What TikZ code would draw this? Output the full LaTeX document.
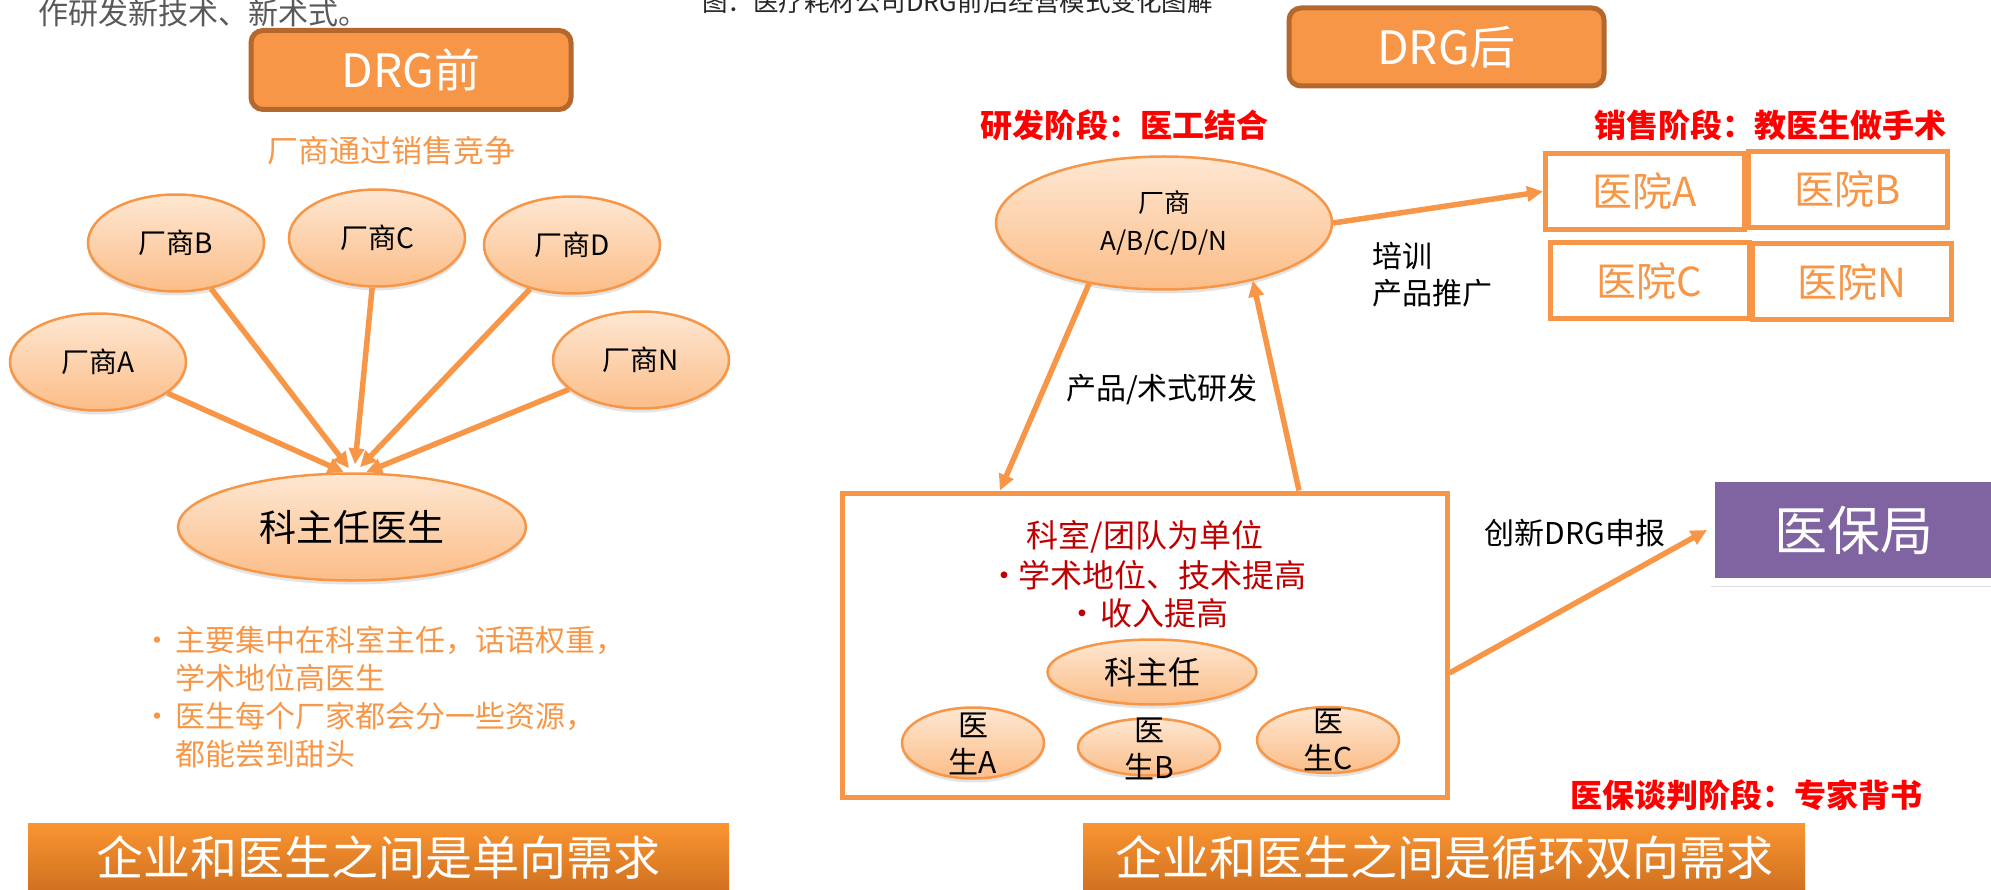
\documentclass[tikz,border=0pt]{standalone}
\usepackage{fontspec}
\setmainfont{Noto Sans CJK SC}
\usetikzlibrary{shapes.geometric,arrows.meta,shadows}
\definecolor{org}{HTML}{F79646}
\definecolor{orgdark}{HTML}{B5682E}
\definecolor{peachtop}{HTML}{FEE7D2}
\definecolor{peachbot}{HTML}{FBBD88}
\definecolor{bandtop}{HTML}{FA9532}
\definecolor{bandbot}{HTML}{D0701F}
\definecolor{purp}{HTML}{8064A2}
\definecolor{darkred}{HTML}{C00000}
\definecolor{brightred}{HTML}{FF0000}
\definecolor{graytxt}{HTML}{595959}
\definecolor{captxt}{HTML}{262626}
\newcommand\fsz[2]{\fontsize{#1pt}{#2pt}\selectfont}
\begin{document}
\begin{tikzpicture}[x=1pt,y=-1pt,
  titlebox/.style={rectangle, rounded corners=12pt, fill=org, draw=orgdark, line width=5pt, text=white, font=\fsz{46}{52}, inner sep=0pt},
  bubble/.style={ellipse, draw=org, line width=2.5pt, top color=peachtop, bottom color=peachbot, inner sep=0pt, drop shadow={shadow xshift=0pt, shadow yshift=-4pt, opacity=0.22}},
  vendor/.style={bubble, minimum width=176pt, minimum height=97pt, font=\fsz{28}{34}},
  arr/.style={draw=org, line width=5.5pt, -{Triangle[length=16pt,width=15pt]}},
  band/.style={rectangle, top color=bandtop, bottom color=bandbot, text=white, font=\fsz{47}{52}, inner sep=0pt, minimum height=69pt},
  hosp/.style={rectangle, draw=org, line width=5pt, fill=white, text=org, font=\fsz{40}{46}, inner sep=0pt, minimum width=199pt, minimum height=76pt},
  lbl/.style={font=\fsz{30}{37}, text=black, inner sep=0pt, align=center},
  redhead/.style={font=\bfseries\fsz{32}{38}, text=brightred, inner sep=0pt},
  teambox/.style={rectangle, draw=org, line width=5pt, fill=white, minimum width=605pt, minimum height=304pt, inner sep=0pt},
  redtxt/.style={font=\fsz{32}{38}, text=darkred, inner sep=0pt}
]
\useasboundingbox (0,0) rectangle (1991,890);
\clip (0,0) rectangle (1991,890);

% top texts
\node[anchor=west, inner sep=0pt, text=graytxt, font=\fsz{30}{36}] (toptxt) at (38,13) {作研发新技术、新术式。};
\node[anchor=west, inner sep=0pt, text=captxt, font=\fsz{25.5}{30}] (caption) at (702,2) {图：医疗耗材公司DRG前后经营模式变化图解};

% ---------- left part ----------
\node[titlebox, minimum width=320pt, minimum height=79pt] (pre) at (411,70) {DRG前};
\node[inner sep=0pt, text=org, font=\fsz{31}{36}] (compete) at (391,151) {厂商通过销售竞争};

\node[vendor] (vA) at (98,362) {厂商A};
\node[vendor] (vB) at (176,243) {厂商B};
\node[vendor] (vC) at (377,238) {厂商C};
\node[vendor] (vD) at (572,245) {厂商D};
\node[vendor] (vN) at (641,360) {厂商N};
\node[bubble, minimum width=348pt, minimum height=107pt, font=\fsz{37}{42}] (chief) at (352,527) {科主任医生};

\draw[arr] (vA) -- ([xshift=-8pt]chief.north);
\draw[arr] (vB) -- ([xshift=-3pt,yshift=4pt]chief.north);
\draw[arr] (vC) -- ([xshift=3pt,yshift=8pt]chief.north);
\draw[arr] (vD) -- ([xshift=8pt,yshift=5pt]chief.north);
\draw[arr] (vN) -- ([xshift=14pt]chief.north);

\node[anchor=west, text=org, font=\fsz{30}{38}, align=left, inner sep=0pt] (notes) at (142,697)
  {\makebox[33pt][l]{•}主要集中在科室主任，话语权重，\\
   \hspace*{33pt}学术地位高医生\\
   \makebox[33pt][l]{•}医生每个厂家都会分一些资源，\\
   \hspace*{33pt}都能尝到甜头};

\node[band, minimum width=701pt] (needL) at (378.5,857.5) {企业和医生之间是单向需求};

% ---------- right part ----------
\node[titlebox, minimum width=315pt, minimum height=78pt] (post) at (1446.5,47) {DRG后};
\node[redhead] (rd) at (1124.5,125) {研发阶段：医工结合};
\node[redhead] (sale) at (1770,125) {销售阶段：教医生做手术};

\node[bubble, minimum width=336pt, minimum height=133pt, font=\fsz{26}{38}, align=center] (maker) at (1164,223) {厂商\\A/B/C/D/N};

\node[hosp] (hA) at (1645,191.5) {医院A};
\node[hosp] (hB) at (1848,189.5) {医院B};
\node[hosp] (hC) at (1649.5,281) {医院C};
\node[hosp] (hN) at (1852,282) {医院N};

\draw[arr] (maker.east) -- (hA.west);
\node[lbl, anchor=west, align=left] (train) at (1372,275) {培训\\产品推广};

\node[teambox] (team) at (1144.5,645) {};
\node[redtxt] (teamttl) at (1145,537) {科室/团队为单位};
\node[redtxt, anchor=west] (tb1) at (988,575) {\makebox[30pt][l]{•}学术地位、技术提高};
\node[redtxt, anchor=west] (tb2) at (1066,613) {\makebox[34pt][l]{•}收入提高};

\node[bubble, minimum width=209pt, minimum height=65pt, font=\fsz{32}{38}] (chief2) at (1152,672) {科主任};
\node[bubble, minimum width=142pt, minimum height=71pt] (docA) at (973,743) {};
\node[bubble, minimum width=142pt, minimum height=57pt] (docB) at (1149,747) {};
\node[bubble, minimum width=142pt, minimum height=66pt] (docC) at (1328,740) {};
\node[lbl] (docAt) at (973,743.5) {医\\生A};
\node[lbl] (docBt) at (1149,748.5) {医\\生B};
\node[lbl] (docCt) at (1328,740) {医\\生C};

\draw[arr] (maker.219) -- ([xshift=-144.5pt]team.north);
\draw[arr] ([xshift=154.5pt]team.north) -- (maker.327);
\node[lbl] (rnd) at (1162,390) {产品/术式研发};

\node[rectangle, draw=white, line width=8pt, fill=purp, text=white, font=\fsz{53}{58}, inner sep=0pt, minimum width=289pt, minimum height=104pt, drop shadow={shadow xshift=0pt, shadow yshift=-5pt, opacity=0.25}] (yibao) at (1855.5,530) {\hspace*{-3pt}医保局};
\draw[arr] ([yshift=-28pt]team.east) -- (yibao.west);
\node[lbl] (report) at (1575,533) {创新DRG申报};

\node[redhead] (nego) at (1746,795) {医保谈判阶段：专家背书};

\node[band, minimum width=722pt] (needR) at (1444,857.5) {企业和医生之间是循环双向需求};
\end{tikzpicture}
\end{document}
